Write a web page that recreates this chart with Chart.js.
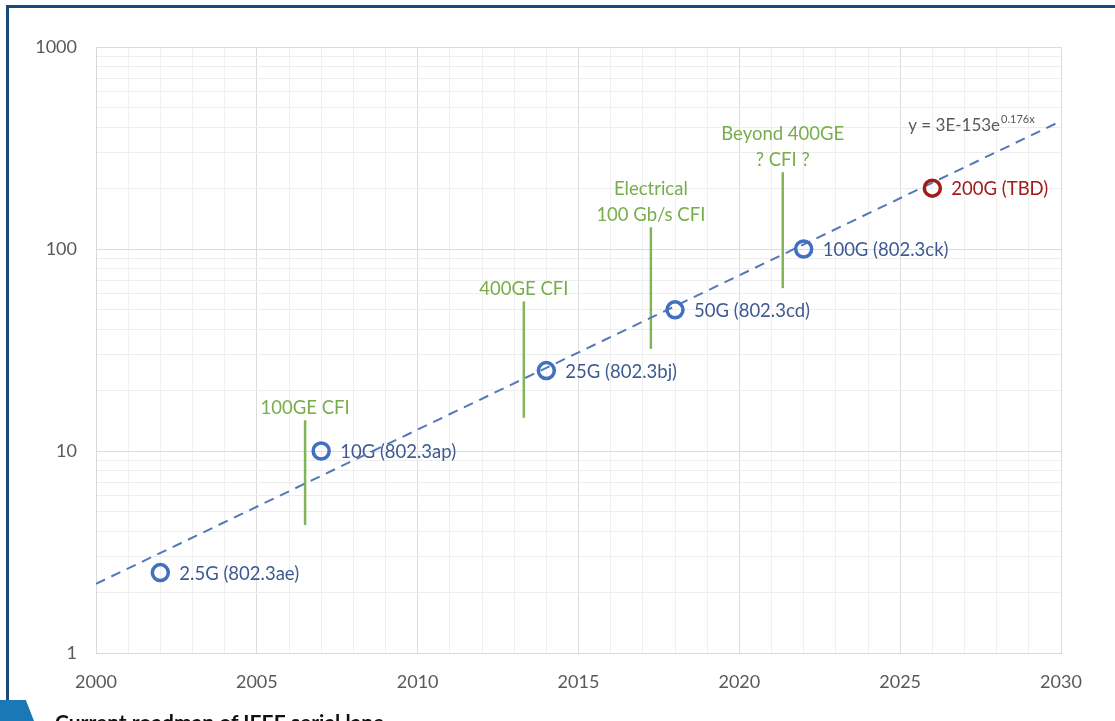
<!DOCTYPE html>
<html>
<head>
<meta charset="utf-8">
<script src="https://cdn.jsdelivr.net/npm/chart.js@4/dist/chart.umd.min.js"></script>
<style>
  html, body { margin: 0; padding: 0; background: #fff; overflow: hidden; }
  #wrap { position: absolute; left: 0; top: 0; width: 1115px; height: 721px; }
  .frameTop { position: absolute; left: 6px; top: 5px; right: 0; height: 3px; background: #174c7a; }
  .frameLeft { position: absolute; left: 6px; top: 5px; width: 3px; height: 696px; background: #174c7a; }
  .tab { position: absolute; left: 0; top: 700px; width: 34px; height: 21px; background: #1a78b6;
         clip-path: polygon(0 0, 76% 0, 100% 100%, 0 100%); }
  .caption { position: absolute; left: 55px; top: 709px; font: bold 21px Lato, sans-serif; color: #111; white-space: nowrap; }
</style>
</head>
<body>
<div id="wrap"><canvas id="chart"></canvas></div>
<div class="frameTop"></div>
<div class="frameLeft"></div>
<div class="tab"></div>
<div class="caption">Current roadmap of IEEE serial lane</div>
<script>
// valeurs
const years = [2002, 2007, 2014, 2018, 2022, 2026];
const speeds = [2.5, 10, 25, 50, 100, 200];
const speedLabels = ['2.5G (802.3ae)', '10G (802.3ap)', '25G (802.3bj)', '50G (802.3cd)', '100G (802.3ck)', '200G (TBD)'];

const trendYears = [2000, 2030];
const trendValues = [2.2, 430];

const cfiYears = [2006.5, 2013.3, 2017.25, 2021.35];
const cfiLow = [4.3, 14.6, 32, 64];
const cfiHigh = [14.2, 55, 128, 240];
const cfiLabels = [['100GE CFI'], ['400GE CFI'], ['Electrical', '100 Gb/s CFI'], ['Beyond 400GE', '? CFI ?']];

const yTicks = [1, 10, 100, 1000];
const xMajor = [2000, 2005, 2010, 2015, 2020, 2025, 2030];

const blue = '#4170c0';
const blueText = '#3f5a92';
const red = '#a01c1c';
const green = '#82b55a';
const grey = '#595959';

const pointColors = years.map((y, i) => i === years.length - 1 ? red : blue);

const cfiSets = cfiYears.map((yr, i) => ({
    data: [{x: yr, y: cfiLow[i]}, {x: yr, y: cfiHigh[i]}],
    showLine: true,
    borderColor: green,
    borderWidth: 2.5,
    pointRadius: 0
}));

const labelPlugin = {
    id: 'labels',
    beforeDatasetsDraw(chart) {
        const ctx = chart.ctx;
        const xs = chart.scales.x, ys = chart.scales.y;
        ctx.save();
        ctx.font = '18.5px Lato';
        ctx.textBaseline = 'middle';
        ctx.textAlign = 'left';
        years.forEach((yr, i) => {
            ctx.fillStyle = i === years.length - 1 ? red : blueText;
            ctx.fillText(speedLabels[i], xs.getPixelForValue(yr) + 19, ys.getPixelForValue(speeds[i]) + 1);
        });
        ctx.textAlign = 'center';
        ctx.fillStyle = '#78ad4c';
        cfiYears.forEach((yr, i) => {
            const lines = cfiLabels[i];
            const top = ys.getPixelForValue(cfiHigh[i]);
            lines.forEach((t, j) => {
                ctx.fillText(t, xs.getPixelForValue(yr), top - 12 - (lines.length - 1 - j) * 26);
            });
        });
        // trend equation
        const ex = xs.getPixelForValue(2025.25), ey = ys.getPixelForValue(410);
        ctx.textAlign = 'left';
        ctx.fillStyle = grey;
        ctx.font = '17px Lato';
        const main = 'y = 3E-153e';
        ctx.fillText(main, ex, ey);
        const w = ctx.measureText(main).width;
        ctx.font = '11px Lato';
        ctx.fillText('0.176x', ex + w + 1, ey - 6);
        ctx.restore();
    }
};

new Chart(document.getElementById('chart'), {
    type: 'scatter',
    data: {
        datasets: [
            {
                data: years.map((yr, i) => ({x: yr, y: speeds[i]})),
                pointRadius: 8,
                pointBorderWidth: 3.5,
                pointBorderColor: pointColors,
                pointBackgroundColor: 'rgba(0,0,0,0)',
                showLine: false
            },
            {
                data: trendYears.map((yr, i) => ({x: yr, y: trendValues[i]})),
                showLine: true,
                borderColor: '#5577b8',
                borderWidth: 2,
                borderDash: [10, 7],
                pointRadius: 0
            },
            ...cfiSets
        ]
    },
    plugins: [labelPlugin],
    options: {
        responsive: true,
        maintainAspectRatio: false,
        animation: false,
        layout: { padding: { left: 0, top: 47, right: 54, bottom: 0 } },
        plugins: { legend: { display: false }, tooltip: { enabled: false } },
        scales: {
            x: {
                type: 'linear',
                min: 2000,
                max: 2030,
                afterFit: s => { s.height = 68; },
                border: { color: '#d9d9d9' },
                grid: {
                    drawTicks: false,
                    color: c => xMajor.includes(c.tick.value) ? '#dcdcdc' : '#f0f0f0'
                },
                ticks: {
                    stepSize: 1,
                    autoSkip: false,
                    maxRotation: 0,
                    padding: 18,
                    color: grey,
                    font: { family: 'Lato', size: 18 },
                    callback: v => xMajor.includes(v) ? String(v) : ''
                }
            },
            y: {
                type: 'logarithmic',
                min: 1,
                max: 1000,
                afterFit: s => { s.width = 96; },
                afterBuildTicks: s => {
                    const t = [];
                    yTicks.forEach((d, k) => {
                        if (k === yTicks.length - 1) { t.push({value: d}); return; }
                        for (let m = 1; m < 10; m++) t.push({value: d * m});
                    });
                    s.ticks = t;
                },
                border: { color: '#d9d9d9' },
                grid: {
                    drawTicks: false,
                    color: c => yTicks.includes(c.tick.value) ? '#dcdcdc' : '#ededed'
                },
                ticks: {
                    autoSkip: false,
                    padding: 19,
                    color: grey,
                    font: { family: 'Lato', size: 18 },
                    callback: v => yTicks.includes(v) ? String(v) : ''
                }
            }
        }
    }
});
</script>
</body>
</html>
